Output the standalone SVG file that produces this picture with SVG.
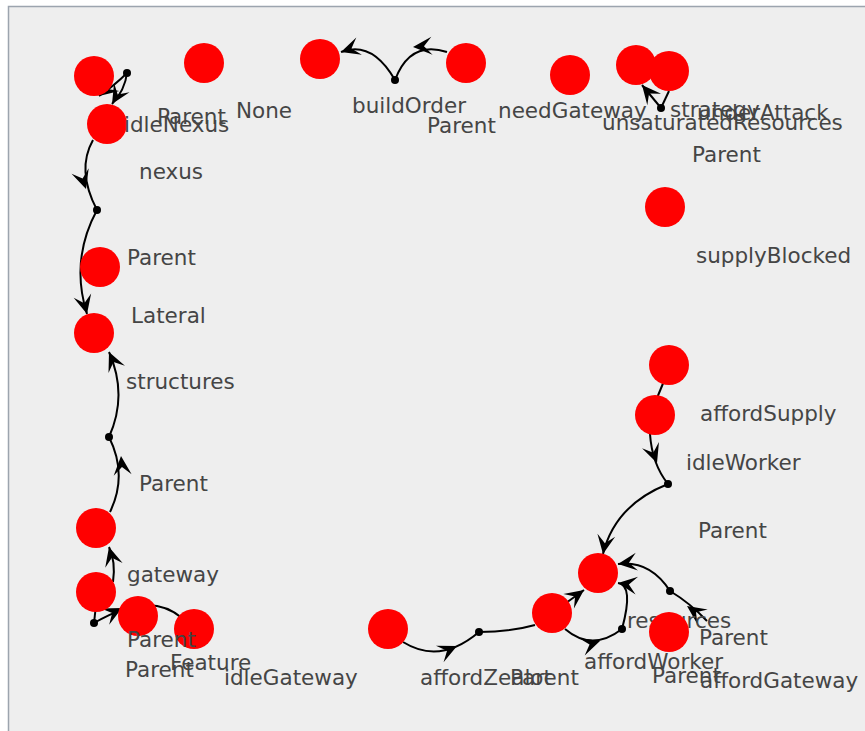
<svg xmlns="http://www.w3.org/2000/svg" xmlns:xlink="http://www.w3.org/1999/xlink" width="865" height="731" viewBox="0 0 865 731">
<style>
.e{fill:none;stroke:#000;stroke-width:2}
.n{fill:#ff0000}
.d{fill:#000}
.t{font-family:"DejaVu Sans",sans-serif;font-size:21.5px;fill:#454545}
</style>
<defs>
<path id="ah" d="M0,0 L-19,-9 L-11,0 L-19,9 Z" fill="#000"/>
</defs>
<rect x="0" y="0" width="865" height="731" fill="#ffffff"/>
<rect x="8.5" y="6.5" width="870" height="740" fill="#eeeeee" stroke="#9ca4ae" stroke-width="1.5"/>
<g id="connectors">
<path class="e" d="M127,73 Q115,85 99,96"/>
<path class="e" d="M127,73 Q125,90 112,104"/>
<use xlink:href="#ah" transform="translate(99,96) rotate(141)"/>
<use xlink:href="#ah" transform="translate(112,104) rotate(121)"/>
<circle class="d" cx="127" cy="73" r="4"/>
<path class="e" d="M93,140 Q76,170 97,210"/>
<use xlink:href="#ah" transform="translate(86,189) rotate(72)"/>
<path class="e" d="M97,210 Q70,260 87,314"/>
<use xlink:href="#ah" transform="translate(87,314) rotate(76)"/>
<circle class="d" cx="97" cy="210" r="4"/>
<path class="e" d="M110,512 Q128,475 109,437"/>
<use xlink:href="#ah" transform="translate(121,456) rotate(-95)"/>
<path class="e" d="M109,437 Q128,395 109,352"/>
<use xlink:href="#ah" transform="translate(109,352) rotate(-114)"/>
<circle class="d" cx="109" cy="437" r="4"/>
<path class="e" d="M113,582 Q116,562 109,547"/>
<use xlink:href="#ah" transform="translate(109,547) rotate(-105)"/>
<path class="e" d="M94,623 L96,605"/>
<path class="e" d="M94,623 Q150,590 182,618"/>
<use xlink:href="#ah" transform="translate(122,608) rotate(-27)"/>
<circle class="d" cx="94" cy="623" r="4"/>
<path class="e" d="M447,52 Q410,40 395,80"/>
<use xlink:href="#ah" transform="translate(413,47) rotate(176)"/>
<path class="e" d="M395,80 Q372,40 341,52"/>
<use xlink:href="#ah" transform="translate(341,52) rotate(162)"/>
<circle class="d" cx="395" cy="80" r="4"/>
<path class="e" d="M661,108 L642,85"/>
<path class="e" d="M661,108 L669,91"/>
<use xlink:href="#ah" transform="translate(642,85) rotate(-130)"/>
<circle class="d" cx="661" cy="108" r="4"/>
<path class="e" d="M664,381 L657,398"/>
<path class="e" d="M650,434 Q652,464 668,484"/>
<use xlink:href="#ah" transform="translate(657,463) rotate(70)"/>
<path class="e" d="M668,484 Q615,505 603,554"/>
<use xlink:href="#ah" transform="translate(603,554) rotate(100)"/>
<circle class="d" cx="668" cy="484" r="4"/>
<path class="e" d="M403,642 Q440,665 479,632"/>
<use xlink:href="#ah" transform="translate(457,646) rotate(-25)"/>
<path class="e" d="M479,632 Q510,632 535,625"/>
<circle class="d" cx="479" cy="632" r="4"/>
<path class="e" d="M566,603 L584,590"/>
<use xlink:href="#ah" transform="translate(584,590) rotate(-36)"/>
<path class="e" d="M565,629 Q592,652 622,629"/>
<use xlink:href="#ah" transform="translate(600,641) rotate(-18)"/>
<path class="e" d="M622,629 Q634,585 618,583"/>
<use xlink:href="#ah" transform="translate(618,583) rotate(188)"/>
<circle class="d" cx="622" cy="629" r="4"/>
<path class="e" d="M670,591 Q650,560 618,564"/>
<use xlink:href="#ah" transform="translate(618,564) rotate(173)"/>
<path class="e" d="M670,591 Q690,603 707,621"/>
<use xlink:href="#ah" transform="translate(687,606) rotate(-145)"/>
<circle class="d" cx="670" cy="591" r="4"/>
</g>
<text class="t" x="627" y="628">resources</text>
<g id="nodes">
<g id="n1"><circle class="n" cx="94" cy="76" r="20"/></g>
<g id="n2"><circle class="n" cx="107" cy="124" r="20"/></g>
<g id="n3"><circle class="n" cx="204" cy="63" r="20"/></g>
<g id="n4"><circle class="n" cx="320" cy="59" r="20"/></g>
<g id="n5"><circle class="n" cx="466" cy="63" r="20"/></g>
<g id="n6"><circle class="n" cx="570" cy="75" r="20"/></g>
<g id="n7"><circle class="n" cx="636" cy="65" r="20"/></g>
<g id="n8"><circle class="n" cx="669" cy="71" r="20"/></g>
<g id="n9"><circle class="n" cx="665" cy="207" r="20"/></g>
<g id="n10"><circle class="n" cx="100" cy="267" r="20"/></g>
<g id="n11"><circle class="n" cx="94" cy="333" r="20"/></g>
<g id="n12"><circle class="n" cx="96" cy="528" r="20"/></g>
<g id="n13"><circle class="n" cx="96" cy="592" r="20"/></g>
<g id="n14"><circle class="n" cx="138" cy="616" r="20"/></g>
<g id="n15"><circle class="n" cx="194" cy="629" r="20"/></g>
<g id="n16"><circle class="n" cx="388" cy="629" r="20"/></g>
<g id="n17"><circle class="n" cx="552" cy="613" r="20"/></g>
<g id="n18"><circle class="n" cx="598" cy="573" r="20"/></g>
<g id="n19"><circle class="n" cx="669" cy="632" r="20"/></g>
<g id="n20"><circle class="n" cx="669" cy="365" r="20"/></g>
<g id="n21"><circle class="n" cx="655" cy="415" r="20"/></g>
</g>
<g id="labels">
<text class="t" x="157" y="124">Parent</text>
<text class="t" x="124" y="132">idleNexus</text>
<text class="t" x="236" y="118">None</text>
<text class="t" x="139" y="179">nexus</text>
<text class="t" x="352" y="113">buildOrder</text>
<text class="t" x="427" y="133">Parent</text>
<text class="t" x="498" y="118">needGateway</text>
<text class="t" x="670" y="117">strategy</text>
<text class="t" x="697" y="120">underAttack</text>
<text class="t" x="602" y="130">unsaturatedResources</text>
<text class="t" x="692" y="162">Parent</text>
<text class="t" x="696" y="263">supplyBlocked</text>
<text class="t" x="127" y="265">Parent</text>
<text class="t" x="131" y="323">Lateral</text>
<text class="t" x="126" y="389">structures</text>
<text class="t" x="139" y="491">Parent</text>
<text class="t" x="127" y="582">gateway</text>
<text class="t" x="127" y="647">Parent</text>
<text class="t" x="125" y="677">Parent</text>
<text class="t" x="170" y="670">Feature</text>
<text class="t" x="224" y="685">idleGateway</text>
<text class="t" x="420" y="685">affordZealot</text>
<text class="t" x="510" y="685">Parent</text>
<text class="t" x="584" y="669">affordWorker</text>
<text class="t" x="652" y="683">Parent</text>
<text class="t" x="700" y="688">affordGateway</text>
<text class="t" x="699" y="645">Parent</text>
<text class="t" x="700" y="421">affordSupply</text>
<text class="t" x="686" y="470">idleWorker</text>
<text class="t" x="698" y="538">Parent</text>
</g>
</svg>
